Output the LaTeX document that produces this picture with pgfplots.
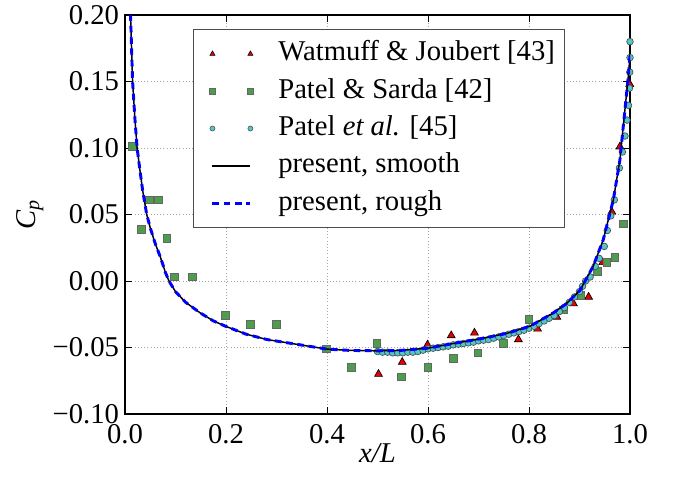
\documentclass[border=0pt]{standalone}
\usepackage{pgfplots}
\pgfplotsset{compat=1.18}
\usepackage{fontspec}
\setmainfont{Liberation Serif}
\definecolor{sqgreen}{RGB}{76,158,76}
\definecolor{cicyan}{RGB}{80,200,200}
\definecolor{trired}{RGB}{235,0,0}
\begin{document}
\begin{tikzpicture}
\begin{axis}[
  name=ax,
  scale only axis,
  width=378.75pt, height=299.25pt,
  xmin=0, xmax=1, ymin=-0.1, ymax=0.2,
  xtick={0,0.2,0.4,0.6,0.8,1.0},
  xticklabels={0.0,0.2,0.4,0.6,0.8,1.0},
  ytick={-0.1,-0.05,0,0.05,0.1,0.15,0.2},
  yticklabels={−0.10,−0.05,0.00,0.05,0.10,0.15,0.20},
  tick align=inside,
  xtick pos=both, ytick pos=both,
  major tick length=5pt,
  tick style={black, line width=0.6pt},
  axis line style={line width=0.8pt},
  grid=major,
  major grid style={dotted, gray!70, line width=0.6pt},
  ticklabel style={font=\fontsize{21.5}{25}\selectfont},
  xticklabel style={yshift=-4.5pt},
  yticklabel style={xshift=-1pt},
  label style={font=\fontsize{21.5}{25}\selectfont},
  xlabel={\itshape x/L},
  ylabel={\itshape C\textsubscript{p}},
  xlabel style={yshift=7pt},
  ylabel style={yshift=0pt},
  legend style={at={(0.135,0.965)}, anchor=north west, draw=black!70, line width=0.8pt,
    font=\fontsize{21.5}{25}\selectfont, row sep=3.5pt, inner xsep=5pt, inner ysep=6pt,
    column sep=15pt,
    nodes={text height=15.5pt, text depth=5pt}},
  legend cell align=left,
  clip mode=individual,
]
\addplot[only marks, mark=triangle*, mark size=3.4pt, mark options={fill=trired, draw=black, line width=0.5pt},
  legend image code/.code={\path (-0.28cm,0) (1.1cm,0); \draw[only marks, mark=triangle*, mark size=2.2pt, mark options={fill=trired, draw=black, line width=0.4pt}] plot coordinates {(0cm,0cm) (1cm,0cm)};}]
coordinates {
(0.502,-0.070) (0.549,-0.061) (0.599,-0.048) (0.646,-0.041) (0.692,-0.039)
(0.779,-0.044) (0.817,-0.036) (0.855,-0.027) (0.888,-0.017) (0.918,-0.012)
(0.946,0.014) (0.964,0.052) (0.980,0.101) (0.9995,0.148)
};
\addlegendentry{Watmuff \& Joubert [43]}
\addplot[only marks, mark=square*, mark size=2.9pt, mark options={fill=sqgreen, draw=black!60, line width=0.6pt},
  legend image code/.code={\path (-0.28cm,0) (1.1cm,0); \draw[only marks, mark=square*, mark size=2.1pt, mark options={fill=sqgreen, draw=black!60, line width=0.5pt}] plot coordinates {(0cm,0cm) (1cm,0cm)};}]
coordinates {
(0.014,0.101) (0.032,0.039) (0.049,0.061) (0.066,0.061) (0.083,0.032)
(0.098,0.003) (0.133,0.003) (0.199,-0.0256) (0.249,-0.0326) (0.300,-0.0326)
(0.399,-0.051) (0.449,-0.065) (0.499,-0.047) (0.548,-0.072) (0.600,-0.065)
(0.650,-0.058) (0.699,-0.054) (0.749,-0.047) (0.800,-0.029) (0.868,-0.0218)
(0.903,-0.011) (0.935,0.007) (0.954,0.014) (0.970,0.018) (0.987,0.043)
};
\addlegendentry{Patel \& Sarda [42]}
\addplot[only marks, mark=*, mark size=2.5pt, mark options={fill=cicyan, draw=black!70, line width=0.5pt},
  legend image code/.code={\path (-0.28cm,0) (1.1cm,0); \draw[only marks, mark=*, mark size=1.9pt, mark options={fill=cicyan, draw=black!70, line width=0.4pt}] plot coordinates {(0cm,0cm) (1cm,0cm)};}]
coordinates {
(0.50,-0.053) (0.51,-0.0535) (0.52,-0.0535) (0.53,-0.054) (0.54,-0.054) (0.55,-0.054)
(0.56,-0.0535) (0.57,-0.0535) (0.58,-0.053) (0.59,-0.052) (0.60,-0.051)
(0.61,-0.0505) (0.62,-0.050) (0.63,-0.0495) (0.64,-0.049) (0.65,-0.048)
(0.66,-0.0475) (0.67,-0.047) (0.68,-0.0465) (0.69,-0.046) (0.70,-0.045)
(0.71,-0.0445) (0.72,-0.044) (0.73,-0.043) (0.74,-0.042) (0.75,-0.041)
(0.76,-0.040) (0.77,-0.039) (0.78,-0.038) (0.79,-0.037) (0.80,-0.0355)
(0.81,-0.034) (0.82,-0.032) (0.83,-0.030) (0.84,-0.028) (0.85,-0.026)
(0.86,-0.023) (0.87,-0.020) (0.88,-0.016) (0.89,-0.012) (0.90,-0.008)
(0.906,-0.004) (0.912,0.000) (0.921,0.003) (0.931,0.011) (0.939,0.017)
(0.949,0.026) (0.955,0.038) (0.962,0.049) (0.969,0.061) (0.979,0.085)
(0.985,0.097) (0.990,0.109) (0.994,0.121) (0.997,0.132) (0.999,0.145)
(0.9995,0.157) (1.0,0.168) (1.0,0.180)
};
\addlegendentry{Patel \textit{et al.} [45]}
\addplot[black, line width=1.1pt,
  legend image code/.code={\path (-0.28cm,0) (1.1cm,0); \draw[black, line width=1.1pt] (0cm,0cm) -- (1cm,0cm);}] coordinates {
(0.005,0.26) (0.008,0.225) (0.011,0.20) (0.015,0.15) (0.020,0.12) (0.024,0.10)
(0.030,0.082) (0.035,0.068) (0.043,0.050) (0.050,0.040) (0.060,0.028)
(0.070,0.018) (0.080,0.0065) (0.087,0.0) (0.100,-0.008) (0.120,-0.016)
(0.149,-0.024) (0.175,-0.030) (0.199,-0.034) (0.240,-0.040) (0.281,-0.044)
(0.347,-0.048) (0.400,-0.0512) (0.446,-0.0522) (0.500,-0.0525) (0.545,-0.0522)
(0.600,-0.0505) (0.650,-0.047) (0.700,-0.0437) (0.756,-0.0394) (0.802,-0.034)
(0.848,-0.024) (0.874,-0.017) (0.901,-0.007) (0.927,0.011) (0.947,0.031)
(0.967,0.061) (0.980,0.091) (0.990,0.129) (0.997,0.155) (1.0,0.17)
};
\addlegendentry{present, smooth}
\addplot[blue, line width=2.2pt, dash pattern=on 5pt off 3.5pt,
  legend image code/.code={\path (-0.28cm,0) (1.1cm,0); \draw[blue, line width=2.2pt, dash pattern=on 5pt off 3.5pt] (0cm,0cm) -- (1cm,0cm);}] coordinates {
(0.005,0.26) (0.008,0.225) (0.011,0.20) (0.015,0.15) (0.020,0.12) (0.024,0.10)
(0.030,0.082) (0.035,0.068) (0.043,0.050) (0.050,0.040) (0.060,0.028)
(0.070,0.018) (0.080,0.0065) (0.087,0.0) (0.100,-0.008) (0.120,-0.016)
(0.149,-0.024) (0.175,-0.030) (0.199,-0.034) (0.240,-0.040) (0.281,-0.044)
(0.347,-0.048) (0.400,-0.0512) (0.446,-0.0522) (0.500,-0.0525) (0.545,-0.0522)
(0.600,-0.0505) (0.650,-0.047) (0.700,-0.0437) (0.756,-0.0394) (0.802,-0.034)
(0.848,-0.024) (0.874,-0.017) (0.901,-0.007) (0.927,0.011) (0.947,0.031)
(0.967,0.061) (0.980,0.091) (0.990,0.129) (0.997,0.155) (1.0,0.17)
};
\addlegendentry{present, rough}
\end{axis}
\pgfresetboundingbox
\path ([xshift=-93.75pt, yshift=-48.75pt]ax.south west) rectangle ([xshift=34.5pt, yshift=11.25pt]ax.north east);
\end{tikzpicture}
\end{document}
